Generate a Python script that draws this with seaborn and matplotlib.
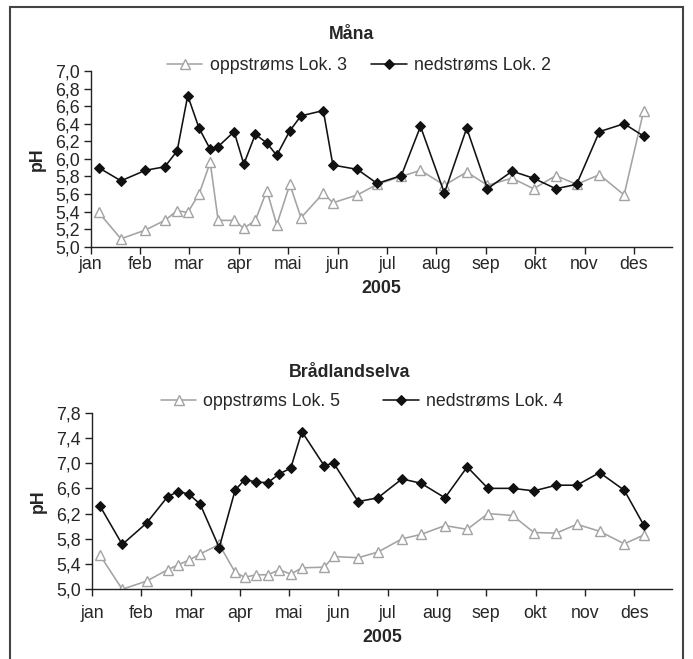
import calendar
import numpy as np
import pandas as pd
import matplotlib
matplotlib.use("Agg")
import matplotlib.pyplot as plt
from matplotlib.patches import Rectangle
import seaborn as sns

# ---------------- data ----------------
months = ["jan", "feb", "mar", "apr", "mai", "jun", "jul", "aug", "sep", "okt", "nov", "des"]
year_label = "2005"

mana_title = "Måna"
mana_dates = ["2005-01-06", "2005-01-20", "2005-02-04", "2005-02-15", "2005-02-22", "2005-02-28",
              "2005-03-07", "2005-03-14", "2005-03-19", "2005-03-29", "2005-04-04", "2005-04-11",
              "2005-04-18", "2005-04-24", "2005-05-02", "2005-05-09", "2005-05-23", "2005-05-29",
              "2005-06-13", "2005-06-25", "2005-07-10", "2005-07-22", "2005-08-06", "2005-08-20",
              "2005-09-02", "2005-09-17", "2005-09-30", "2005-10-14", "2005-10-27", "2005-11-10",
              "2005-11-25", "2005-12-07"]
mana_up_label = "oppstrøms Lok. 3"
mana_up = [5.39, 5.09, 5.19, 5.30, 5.41, 5.39, 5.60, 5.96, 5.30, 5.30, 5.21, 5.30,
           5.64, 5.25, 5.71, 5.33, 5.61, 5.50, 5.59, 5.71, 5.80, 5.87, 5.70, 5.85,
           5.70, 5.78, 5.66, 5.81, 5.71, 5.82, 5.59, 6.54]
mana_down_label = "nedstrøms Lok. 2"
mana_down = [5.90, 5.75, 5.87, 5.91, 6.09, 6.72, 6.35, 6.11, 6.14, 6.31, 5.94, 6.28,
             6.18, 6.04, 6.32, 6.49, 6.55, 5.93, 5.88, 5.72, 5.81, 6.37, 5.61, 6.35,
             5.66, 5.86, 5.78, 5.66, 5.71, 6.31, 6.40, 6.26]
mana_yticks = [5.0, 5.2, 5.4, 5.6, 5.8, 6.0, 6.2, 6.4, 6.6, 6.8, 7.0]

brad_title = "Brådlandselva"
brad_dates = ["2005-01-06", "2005-01-20", "2005-02-04", "2005-02-16", "2005-02-22", "2005-02-28",
              "2005-03-07", "2005-03-19", "2005-03-29", "2005-04-04", "2005-04-11", "2005-04-18",
              "2005-04-25", "2005-05-02", "2005-05-09", "2005-05-23", "2005-05-29", "2005-06-13",
              "2005-06-25", "2005-07-10", "2005-07-22", "2005-08-06", "2005-08-20", "2005-09-02",
              "2005-09-17", "2005-09-30", "2005-10-14", "2005-10-27", "2005-11-10", "2005-11-25",
              "2005-12-07"]
brad_up_label = "oppstrøms Lok. 5"
brad_up = [5.54, 5.00, 5.13, 5.31, 5.39, 5.46, 5.56, 5.71, 5.27, 5.19, 5.23, 5.23,
           5.31, 5.24, 5.34, 5.35, 5.52, 5.50, 5.59, 5.80, 5.87, 6.01, 5.95, 6.20,
           6.17, 5.90, 5.89, 6.03, 5.92, 5.72, 5.86]
brad_down_label = "nedstrøms Lok. 4"
brad_down = [6.32, 5.71, 6.05, 6.47, 6.55, 6.51, 6.35, 5.66, 6.57, 6.74, 6.70, 6.69,
             6.83, 6.92, 7.50, 6.96, 7.00, 6.39, 6.45, 6.75, 6.68, 6.45, 6.94, 6.60,
             6.60, 6.56, 6.65, 6.65, 6.85, 6.57, 6.02]
brad_yticks = [5.0, 5.4, 5.8, 6.2, 6.6, 7.0, 7.4, 7.8]


def month_pos(dates):
    d = pd.to_datetime(pd.Series(dates))
    dim = [calendar.monthrange(x.year, x.month)[1] for x in d]
    return (d.dt.month - 1 + (d.dt.day - 1) / np.array(dim)).to_numpy()


# ---------------- style ----------------
sns.set_theme(style="white")
plt.rcParams["font.family"] = ["Liberation Sans", "DejaVu Sans"]
FS = 12.8

GRAY = "#a3a3a3"
BLACK = "#111111"

fig = plt.figure(figsize=(6.93, 6.59), dpi=100)
fig.patch.set_facecolor("white")

ax1 = fig.add_axes([0.1309, 0.6256, 0.8388, 0.2666])
ax2 = fig.add_axes([0.1328, 0.1058, 0.8370, 0.2680])


def draw(ax, dates, up, down, up_label, down_label, yticks, title, title_xy,
         leg_xy, colspacing, xpad, xlabel_y):
    x = month_pos(dates)
    df = pd.DataFrame({"x": x, "up": up, "down": down})
    sns.lineplot(data=df, x="x", y="up", ax=ax, color=GRAY, lw=1.15, marker="^",
                 markersize=6.8, markerfacecolor="white", markeredgecolor=GRAY,
                 markeredgewidth=1.0, label=up_label, sort=False, errorbar=None)
    sns.lineplot(data=df, x="x", y="down", ax=ax, color=BLACK, lw=1.15, marker="D",
                 markersize=4.7, markerfacecolor=BLACK, markeredgecolor=BLACK,
                 label=down_label, sort=False, errorbar=None)
    ax.set_xlim(0, 11.77)
    ax.set_ylim(yticks[0], yticks[-1])
    ax.set_yticks(yticks)
    ax.set_yticklabels([f"{v:.1f}".replace(".", ",") for v in yticks])
    ax.set_xticks(range(12))
    ax.set_xticklabels(months)
    for s in ["top", "right"]:
        ax.spines[s].set_visible(False)
    for s in ["left", "bottom"]:
        ax.spines[s].set_color("#222222")
        ax.spines[s].set_linewidth(1.0)
    ax.tick_params(axis="both", which="major", labelsize=FS, direction="out",
                   length=5, width=1.0, color="#222222", left=True, bottom=True)
    ax.tick_params(axis="x", pad=xpad)
    ax.tick_params(axis="y", pad=3)
    ax.set_xlabel(year_label, fontsize=FS, fontweight="bold")
    ax.set_ylabel("pH", fontsize=FS, fontweight="bold")
    ax.yaxis.set_label_coords(-0.078, 0.5)
    ax.xaxis.set_label_coords(0.5, xlabel_y)
    ax.legend_.remove()
    handles, labels = ax.get_legend_handles_labels()
    fig.legend(handles, labels, loc="center", bbox_to_anchor=leg_xy, ncol=2,
               frameon=False, fontsize=FS, handlelength=2.0, handletextpad=0.4,
               columnspacing=colspacing, borderpad=0, borderaxespad=0)
    fig.text(title_xy[0], title_xy[1], title, ha="center", va="center",
             fontsize=FS, fontweight="bold")


draw(ax1, mana_dates, mana_up, mana_down, mana_up_label, mana_down_label,
     mana_yticks, mana_title, (0.508, 0.947), (0.518, 0.901), 1.4, 1.5, -0.19)
draw(ax2, brad_dates, brad_up, brad_down, brad_up_label, brad_down_label,
     brad_yticks, brad_title, (0.505, 0.434), (0.522, 0.390), 2.4, 6.5, -0.225)

# outer frame (bottom edge falls outside the image)
fig.patches.append(Rectangle((0.0144, -0.05), 0.9712, 1.0394, transform=fig.transFigure,
                             fill=False, edgecolor="#444444", linewidth=1.5, clip_on=False))

fig.savefig("out.png", dpi=100)
